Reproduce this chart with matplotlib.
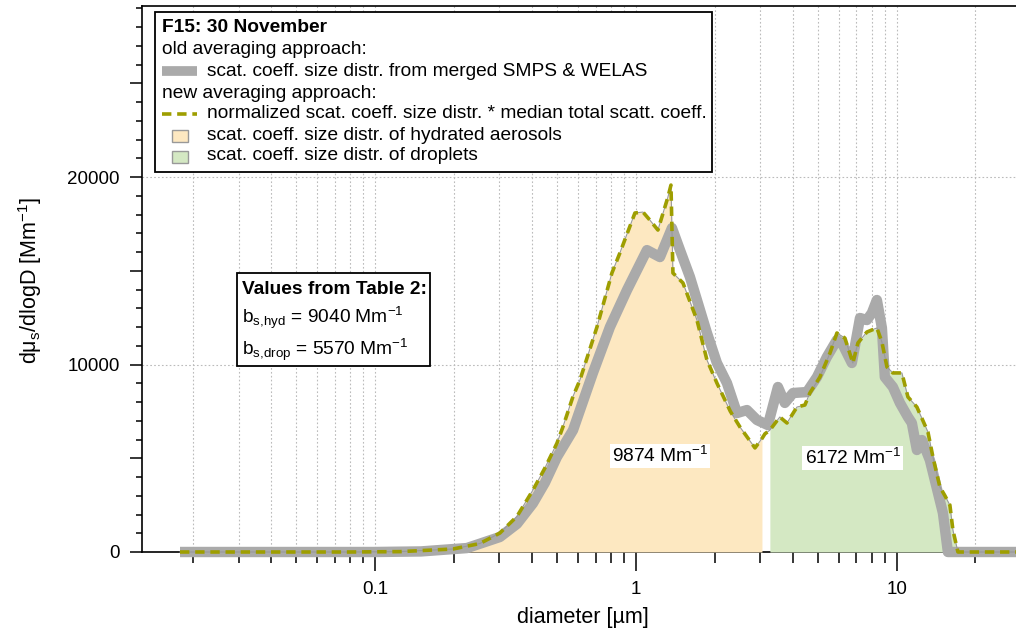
import matplotlib
matplotlib.use('Agg')
import matplotlib.pyplot as plt
import numpy as np
from matplotlib.lines import Line2D
from matplotlib.patches import Rectangle
from matplotlib.ticker import FuncFormatter, NullFormatter

plt.rcParams['font.family'] = ['Liberation Sans', 'DejaVu Sans']
plt.rcParams['mathtext.default'] = 'regular'

# new averaging approach (normalized distr. * median total scatt. coeff.)
diam_new = [0.0179, 0.08, 0.125, 0.199, 0.252, 0.301, 0.350, 0.403, 0.448, 0.498,
            0.525, 0.574, 0.610, 0.709, 0.809, 0.868, 0.991, 1.064, 1.131, 1.214,
            1.326, 1.362, 1.386, 1.514, 1.713, 1.871, 2.043, 2.30, 2.503, 2.858,
            3.04, 3.12, 3.26, 3.47, 3.56, 3.79, 4.14, 4.44, 4.64, 5.07,
            5.54, 5.89, 6.32, 6.78, 7.09, 7.67, 8.38, 8.76, 9.16, 9.65,
            10.45, 11.02, 11.93, 13.15, 13.74, 14.61, 15.28, 15.96, 16.39, 17.13, 30.0]
dsdlogd_new = [0, 0, 20, 160, 450, 1010, 1900, 3300, 4480, 5800,
               6670, 8300, 9170, 12000, 14880, 15950, 18080, 18130, 17700, 17170,
               18930, 19570, 14880, 14350, 12370, 10240, 9010, 7500, 6670, 5550,
               6050, 6300, 6500, 7000, 7200, 6880, 7730, 7840, 8480, 9330,
               10610, 11680, 11410, 10080, 11150, 11730, 11950, 11200, 9870, 9550,
               9550, 8270, 7730, 6400, 5070, 3470, 3000, 2500, 1170, 0, 0]

# old averaging approach (merged SMPS & WELAS)
diam_old = [0.0179, 0.10, 0.15, 0.225, 0.301, 0.350, 0.403, 0.448, 0.498, 0.574,
            0.684, 0.795, 0.924, 1.102, 1.236, 1.374, 1.475, 1.610, 1.713, 1.871,
            2.043, 2.232, 2.438, 2.663, 2.909, 3.204, 3.50, 3.72, 4.00, 4.52,
            4.94, 5.39, 5.89, 6.21, 6.72, 7.22, 7.67, 8.02, 8.38, 8.76,
            8.99, 9.65, 10.27, 11.02, 11.41, 11.93, 12.47, 13.38, 15.01, 15.68, 30.0]
dsdlogd_old = [0, 0, 30, 210, 800, 1500, 2600, 3700, 5070, 6500,
               9550, 12000, 13970, 16100, 15730, 17280, 16100, 14670, 13440, 11680,
               10080, 9010, 7410, 7570, 7040, 6770, 8800, 7950, 8480, 8530,
               9330, 10400, 11310, 11040, 10080, 12480, 12370, 12750, 13440, 11950,
               9330, 8800, 7950, 7200, 6880, 5440, 5970, 4900, 2080, 0, 0]

hyd_max = 3.04
drop_min = 3.26
hyd_integral = 9874
drop_integral = 6172
table_hyd = 9040
table_drop = 5570

gray = '#aaaaaa'
olive = '#9e9e00'
c_hyd = '#fde8c1'
c_drop = '#d4e8c3'

W, H = 1016, 631
fig = plt.figure(figsize=(W / 100, H / 100), dpi=100)


def fx(x):
    return x / W


def fy(y):
    return 1 - y / H


ax = fig.add_axes([fx(142), fy(552), 1 - fx(142), (552 - 6) / H])

dn = np.array(diam_new)
vn = np.array(dsdlogd_new)
ax.fill_between(dn, vn, where=dn <= hyd_max, color=c_hyd, lw=0, zorder=2.6)
ax.fill_between(dn, vn, where=dn >= drop_min, color=c_drop, lw=0, zorder=2.6)
ax.plot(diam_old, dsdlogd_old, color=gray, lw=7.5, solid_joinstyle='round',
        solid_capstyle='butt', zorder=3, clip_on=False)
ax.plot(diam_new, dsdlogd_new, color='#999999', lw=0.8, zorder=3.2, clip_on=False)
ax.plot(diam_new, dsdlogd_new, color=olive, lw=2.6, ls=(0, (2.6, 1.6)),
        zorder=3.4, clip_on=False)

ax.set_xscale('log')
ax.set_xlim(0.0128, 28.6)
ax.set_ylim(0, 29120)

ax.xaxis.set_major_formatter(FuncFormatter(lambda v, p: f'{v:g}'))
ax.xaxis.set_minor_formatter(NullFormatter())
yt = list(range(0, 30000, 5000))
ax.set_yticks(yt)
ax.set_yticklabels([str(v) if v % 10000 == 0 else '' for v in yt])
ax.set_yticks(range(0, 29001, 1000), minor=True)

ax.tick_params(axis='both', which='both', direction='out', width=1.1, labelsize=13.5)
ax.tick_params(axis='x', which='major', length=14, pad=7)
ax.tick_params(axis='x', which='minor', length=8)
ax.tick_params(axis='y', which='major', length=9, pad=7)
ax.tick_params(axis='y', which='minor', length=4.5)

ax.set_axisbelow(True)
ax.grid(True, axis='x', which='both', color='#bbbbbb', lw=0.8, ls=(0, (1.5, 2)))
ax.grid(True, axis='y', which='major', color='#bbbbbb', lw=0.8, ls=(0, (1.5, 2)))
for tick, loc in zip(ax.yaxis.get_major_ticks(), yt):
    if loc % 10000 != 0:
        tick.gridline.set_visible(False)

for s in ['left', 'top', 'bottom']:
    ax.spines[s].set_linewidth(1.2)
ax.spines['right'].set_visible(False)

# integral labels
ax.text(1.236, 5120, f'{hyd_integral} Mm$^{{-1}}$', ha='center', va='center', fontsize=13.8,
        zorder=6, bbox=dict(facecolor='white', edgecolor='none', pad=1.5))
ax.text(6.77, 5010, f'{drop_integral} Mm$^{{-1}}$', ha='center', va='center', fontsize=13.8,
        zorder=6, bbox=dict(facecolor='white', edgecolor='none', pad=1.5))

# axis labels
fig.text(fx(30), fy(280), r'd$\mu_s$/dlogD [Mm$^{-1}$]', rotation=90, ha='center',
         va='center', fontsize=15.5)
fig.text(fx(583), fy(617), 'diameter [µm]', ha='center', va='center', fontsize=15.5)

# legend box
fs = 13.8
fig.add_artist(Rectangle((fx(155), fy(172)), fx(712) - fx(155), fy(12) - fy(172),
                         transform=fig.transFigure, facecolor='white', edgecolor='black',
                         lw=1.3, zorder=5))
fig.text(fx(162), fy(28), 'F15: 30 November', fontweight='bold', va='center', fontsize=fs, zorder=6)
fig.text(fx(162), fy(49), 'old averaging approach:', va='center', fontsize=fs, zorder=6)
fig.add_artist(Line2D([fx(162), fx(197)], [fy(71), fy(71)], transform=fig.transFigure,
                      color=gray, lw=7, solid_capstyle='butt', zorder=6))
fig.text(fx(207), fy(71), 'scat. coeff. size distr. from merged SMPS & WELAS', va='center',
         fontsize=fs, zorder=6)
fig.text(fx(162), fy(93), 'new averaging approach:', va='center', fontsize=fs, zorder=6)
fig.add_artist(Line2D([fx(162), fx(197)], [fy(114), fy(114)], transform=fig.transFigure,
                      color=olive, lw=2.6, ls=(0, (2.6, 1.6)), zorder=6))
fig.text(fx(207), fy(114), 'normalized scat. coeff. size distr. * median total scatt. coeff.',
         va='center', fontsize=fs, zorder=6)
fig.add_artist(Rectangle((fx(172), fy(142)), fx(188) - fx(172), fy(130) - fy(142),
                         transform=fig.transFigure, facecolor=c_hyd, edgecolor='#999999',
                         lw=1, zorder=6))
fig.text(fx(207), fy(135), 'scat. coeff. size distr. of hydrated aerosols', va='center',
         fontsize=fs, zorder=6)
fig.add_artist(Rectangle((fx(172), fy(163)), fx(188) - fx(172), fy(151) - fy(163),
                         transform=fig.transFigure, facecolor=c_drop, edgecolor='#999999',
                         lw=1, zorder=6))
fig.text(fx(207), fy(156), 'scat. coeff. size distr. of droplets', va='center',
         fontsize=fs, zorder=6)

# table values box
fig.add_artist(Rectangle((fx(237), fy(366)), fx(430) - fx(237), fy(273) - fy(366),
                         transform=fig.transFigure, facecolor='white', edgecolor='black',
                         lw=1.3, zorder=5))
fig.text(fx(242), fy(294), 'Values from Table 2:', fontweight='bold', va='baseline',
         fontsize=fs, zorder=6)
fig.text(fx(242), fy(323), f'b$_{{s{{,}}hyd}}$ = {table_hyd} Mm$^{{-1}}$', va='baseline',
         fontsize=fs, zorder=6)
fig.text(fx(242), fy(355), f'b$_{{s{{,}}drop}}$ = {table_drop} Mm$^{{-1}}$', va='baseline',
         fontsize=fs, zorder=6)

fig.savefig('out.png', dpi=100)
